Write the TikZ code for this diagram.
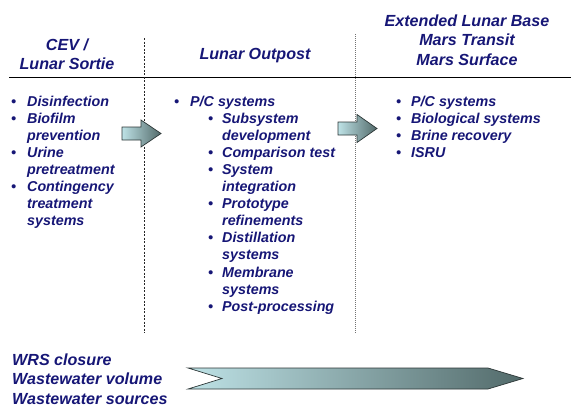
\documentclass[tikz,border=0pt]{standalone}
\usepackage{fontspec}
\setmainfont{Liberation Sans}
\usetikzlibrary{positioning}

\definecolor{navytext}{RGB}{22,22,118}
\definecolor{arrowlight}{RGB}{190,226,230}
\definecolor{arrowdark}{RGB}{82,106,106}
\definecolor{arrowline}{RGB}{45,55,55}

\tikzset{
    header/.style={font=\fontsize{16.1}{19.5}\selectfont\bfseries\itshape,text=navytext,inner sep=0pt,anchor=base},
    items/.style={font=\fontsize{14.3}{17.1}\selectfont\bfseries\itshape,text=navytext,inner sep=0pt,anchor=base west},
    notes/.style={font=\fontsize{16.1}{19.5}\selectfont\bfseries\itshape,text=navytext,inner sep=0pt,anchor=base west},
    blockarrow/.style={draw=arrowline,line width=0.7pt,left color=arrowlight,right color=arrowdark},
    divider/.style={dash pattern=on 2pt off 1.5pt,line width=0.8pt,black!85},
    dotdivider/.style={densely dotted,line width=1pt,black!55}
}

\begin{document}
\begin{tikzpicture}[x=1pt,y=-1pt]
    \useasboundingbox (0,0) rectangle (571,407);

    \draw[line width=0.8pt] (9,77) -- (571,77);
    \draw[divider] (144.5,38) -- (144.5,333);
    \draw[dotdivider] (355,34) -- (355,333);

    \node[header] (sortie) at (67,50) {\begin{tabular}[t]{@{}c@{}}CEV /\\Lunar Sortie\end{tabular}};
    \node[header] (outpost) at (255,59) {Lunar Outpost};
    \node[header] (mars) at (467,26) {\begin{tabular}[t]{@{}c@{}}Extended Lunar Base\\Mars Transit\\Mars Surface\end{tabular}};

    \node[items] (sortielist) at (11,106) {\begin{tabular}[t]{@{}p{16pt}@{}l@{}}
        \textbullet & Disinfection\\
        \textbullet & Biofilm\\
                    & prevention\\
        \textbullet & Urine\\
                    & pretreatment\\
        \textbullet & Contingency\\
                    & treatment\\
                    & systems
    \end{tabular}};

    \node[items] (outpostlist) at (174,106) {\begin{tabular}[t]{@{}p{16pt}@{}p{18pt}@{}p{14pt}@{}l@{}}
        \textbullet & \multicolumn{3}{@{}l@{}}{P/C systems}\\
        & & \textbullet & Subsystem\\
        & &             & development\\
        & & \textbullet & Comparison test\\
        & & \textbullet & System\\
        & &             & integration\\
        & & \textbullet & Prototype\\
        & &             & refinements\\
        & & \textbullet & Distillation\\
        & &             & systems\\
        & & \textbullet & Membrane\\
        & &             & systems\\
        & & \textbullet & Post-processing
    \end{tabular}};

    \node[items] (marslist) at (396,106) {\begin{tabular}[t]{@{}p{15pt}@{}l@{}}
        \textbullet & P/C systems\\
        \textbullet & Biological systems\\
        \textbullet & Brine recovery\\
        \textbullet & ISRU
    \end{tabular}};

    \node[notes] (drivers) at (12,365) {\begin{tabular}[t]{@{}l@{}}WRS closure\\Wastewater volume\\Wastewater sources\end{tabular}};

    % step arrows between the phases
    \draw[blockarrow] (122,127) -- (141,127) -- (141,120) -- (161,133.5) -- (141,147) -- (141,140) -- (122,140) -- cycle;
    \draw[blockarrow] (338,122) -- (357,122) -- (357,114.5) -- (377,128.5) -- (357,142.5) -- (357,135) -- (338,135) -- cycle;

    % long arrow
    \draw[blockarrow] (188,368) -- (488,368) -- (523,378.5) -- (488,389) -- (188,389) -- (222,378.5) -- cycle;
\end{tikzpicture}
\end{document}
